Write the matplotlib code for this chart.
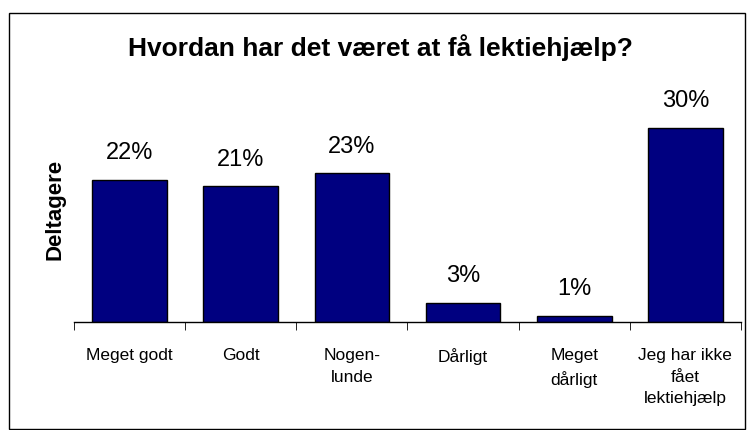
import matplotlib.pyplot as plt
from matplotlib.patches import Rectangle

plt.rcParams['font.family'] = ['Liberation Sans', 'DejaVu Sans']

categories = ["Meget godt", "Godt", "Nogen-\nlunde", "Dårligt",
              "Meget\ndårligt", "Jeg har ikke\nfået\nlektiehjælp"]
values = [22, 21, 23, 3, 1, 30]
labels = ["22%", "21%", "23%", "3%", "1%", "30%"]

fig = plt.figure(figsize=(7.47, 4.31), dpi=100)
ax = fig.add_axes([0.099, 0.2506, 0.893, 0.525])

x = list(range(len(values)))
bars = ax.bar(x, values, width=0.67, color="#000080", edgecolor="black", linewidth=1)

for b, lab in zip(bars, labels):
    ax.annotate(lab, (b.get_x() + b.get_width() / 2, b.get_height()),
                xytext=(0, 12), textcoords="offset points",
                ha="center", va="bottom", fontsize=17)

ax.set_xlim(-0.5, len(values) - 0.5)
ax.set_ylim(0, 35)
ax.set_xticks(x)
ax.set_xticklabels(categories, fontsize=12.5, linespacing=1.55)
ax.set_xticks([i - 0.5 for i in range(len(values) + 1)], minor=True)
ax.tick_params(axis="x", which="major", length=0, pad=18)
ax.tick_params(axis="x", which="minor", length=6, direction="out")
ax.set_yticks([])
for s in ["top", "right", "left"]:
    ax.spines[s].set_visible(False)
ax.spines["bottom"].set_linewidth(1)

ax.set_ylabel("Deltagere", fontsize=16, fontweight="bold", labelpad=6)

fig.text(0.509, 0.89, "Hvordan har det været at få lektiehjælp?",
         ha="center", va="center", fontsize=19, fontweight="bold")

fig.patches.append(Rectangle((9 / 747, 1 / 431), 736 / 747, 416 / 431,
                             transform=fig.transFigure, fill=False,
                             edgecolor="black", linewidth=1))

fig.savefig("out.png", dpi=100)
